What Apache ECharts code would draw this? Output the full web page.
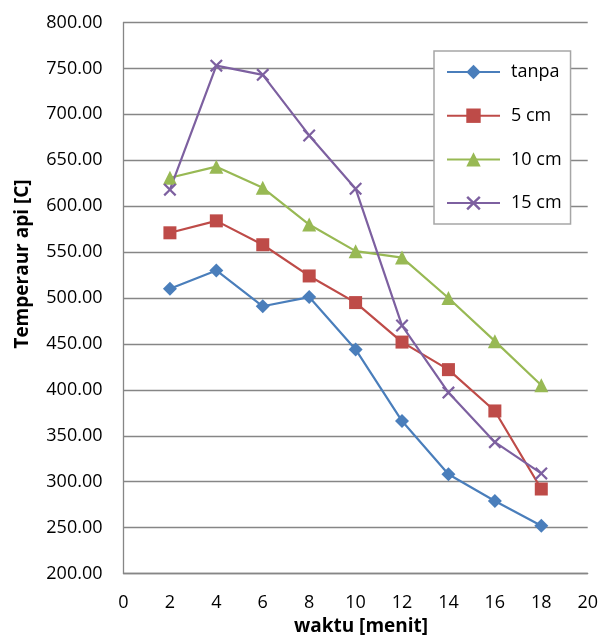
<!DOCTYPE html>
<html>
<head>
<meta charset="utf-8">
<script src="https://cdn.jsdelivr.net/npm/echarts@6/dist/echarts.min.js"></script>
<style>
  html, body { margin: 0; padding: 0; background: #fff; }
  #chart { width: 601px; height: 644px; }
</style>
</head>
<body>
<div id="chart"></div>
<script>
// Flame temperature over time for different distances
const waktu = [2, 4, 6, 8, 10, 12, 14, 16, 18];
const tanpa = [510, 530, 491, 501, 444, 366, 308, 279, 252];
const cm5   = [571, 584, 558, 524, 495, 452, 422, 377, 292];
const cm10  = [631, 643, 620, 580, 551, 544, 500, 453, 405];
const cm15  = [618, 753, 743, 677, 619, 470, 397, 343, 309];
const seriesNames = ['tanpa', '5 cm', '10 cm', '15 cm'];

const FONT = '"Open Sans", sans-serif';
const crossPath = 'path://M0,1.2L1.2,0L5,3.8L8.8,0L10,1.2L6.2,5L10,8.8L8.8,10L5,6.2L1.2,10L0,8.8L3.8,5Z';

function pairs(vals) {
  return waktu.map((x, i) => [x, vals[i]]);
}

function lineSeries(name, vals, color, symbol, size) {
  return {
    name: name,
    type: 'line',
    data: pairs(vals),
    symbol: symbol,
    symbolSize: size,
    showSymbol: true,
    lineStyle: { color: color, width: 2.2 },
    itemStyle: { color: color, borderWidth: 0 },
    emphasis: { disabled: true },
    animation: false
  };
}

const chart = echarts.init(document.getElementById('chart'), null, { renderer: 'canvas' });
chart.setOption({
  backgroundColor: '#ffffff',
  animation: false,
  grid: { left: 123.5, right: 12, top: 22.5, bottom: 70.5, containLabel: false },
  xAxis: {
    type: 'value',
    min: 0, max: 20, interval: 2,
    axisLine: { show: true, lineStyle: { color: '#868686', width: 1.3 } },
    axisTick: { show: false },
    splitLine: { show: false },
    axisLabel: { color: '#000', fontFamily: FONT, fontSize: 18, margin: 20 }
  },
  yAxis: {
    type: 'value',
    min: 200, max: 800, interval: 50,
    axisLine: { show: true, lineStyle: { color: '#868686', width: 1.3 } },
    axisTick: { show: false },
    splitLine: { show: true, lineStyle: { color: '#868686', width: 1.3 } },
    axisLabel: {
      color: '#000', fontFamily: FONT, fontSize: 18, margin: 21,
      formatter: v => v.toFixed(2)
    }
  },
  legend: {
    orient: 'vertical',
    left: 434, top: 51,
    data: seriesNames,
    itemWidth: 53, itemHeight: 18, itemGap: 25.7,
    padding: [12, 9, 12, 12],
    borderColor: '#a6a6a6', borderWidth: 1.5,
    backgroundColor: '#ffffff',
    textStyle: { color: '#000', fontFamily: FONT, fontSize: 18, lineHeight: 18, padding: [0, 0, 0, 6] },
    selectedMode: false
  },
  graphic: [
    {
      type: 'text', x: 361, y: 627,
      style: { text: 'waktu [menit]', font: 'bold 19px ' + FONT, fill: '#000', textAlign: 'center', textVerticalAlign: 'middle' }
    },
    {
      type: 'text', x: 23, y: 264, rotation: Math.PI / 2,
      style: { text: 'Temperaur api [C]', font: 'bold 19px ' + FONT, fill: '#000', textAlign: 'center', textVerticalAlign: 'middle' }
    }
  ],
  series: [
    lineSeries(seriesNames[0], tanpa, '#4a7ebb', 'diamond', 14),
    lineSeries(seriesNames[1], cm5, '#be4b48', 'rect', 13),
    lineSeries(seriesNames[2], cm10, '#98b954', 'triangle', 14),
    lineSeries(seriesNames[3], cm15, '#7d60a0', crossPath, 13)
  ]
});
</script>
</body>
</html>
